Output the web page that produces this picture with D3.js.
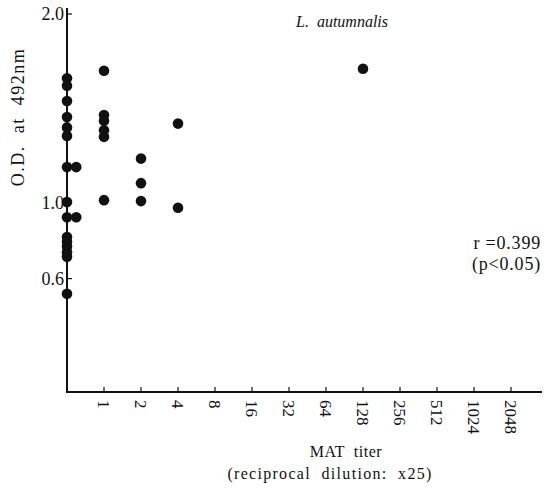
<!DOCTYPE html>
<html>
<head>
<meta charset="utf-8">
<script src="https://cdn.jsdelivr.net/npm/d3@7"></script>
<style>
  body { margin: 0; background: #fff; }
  text { font-family: "Liberation Serif", "DejaVu Serif", serif; fill: #111; white-space: pre; }
</style>
</head>
<body>
<svg id="chart"></svg>
<script>
const WIDTH = 546;
const HEIGHT = 489;

// titer categories (index 0 is the axis itself, < 1)
const titerLabels = ["", "1", "2", "4", "8", "16", "32", "64", "128", "256", "512", "1024", "2048"];
const yTicks = [0.6, 1.0, 2.0];

// points: position on titer axis (index, small offsets where dots overlap) and O.D.
const titerIdx = [0, 0, 0, 0, 0, 0, 0, 0.25, 0, 0, 0.25, 0, 0, 0, 0, 0, 0,
                  1, 1, 1, 1, 1, 1,
                  2, 2, 2,
                  3, 3,
                  8];
const odValues = [1.66, 1.62, 1.54, 1.455, 1.40, 1.355, 1.19, 1.19, 1.005, 0.925, 0.925, 0.82, 0.795, 0.77, 0.74, 0.715, 0.52,
                  1.70, 1.465, 1.435, 1.385, 1.35, 1.015,
                  1.235, 1.105, 1.01,
                  1.42, 0.975,
                  1.71];

window.onload = function(){
    makeChart();
};

function makeChart(){
    const svg = d3.select('#chart')
        .attr('width', WIDTH)
        .attr('height', HEIGHT);

    const x = d3.scaleLinear().domain([0, 12]).range([67, 511]);
    const y = d3.scaleLinear().domain([0, 2]).range([392, 14]);

    const points = titerIdx.map((t, i) => ({t: t, v: odValues[i]}));

    // axes lines
    svg.append('line')
        .attr('x1', x(0)).attr('x2', x(0))
        .attr('y1', 8).attr('y2', y(0))
        .style('stroke', '#111').style('stroke-width', 2);
    svg.append('line')
        .attr('x1', x(0) - 1).attr('x2', 542)
        .attr('y1', y(0)).attr('y2', y(0))
        .style('stroke', '#111').style('stroke-width', 2);

    // y ticks
    const yt = svg.append('g').selectAll('g').data(yTicks).enter().append('g');
    yt.append('line')
        .attr('x1', x(0)).attr('x2', x(0) + 5)
        .attr('y1', d => y(d)).attr('y2', d => y(d))
        .style('stroke', '#111').style('stroke-width', 1.2);
    yt.append('text')
        .attr('x', x(0) - 3)
        .attr('y', d => y(d) + 6)
        .attr('text-anchor', 'end')
        .style('font-size', '18px')
        .text(d => d.toFixed(1));

    // x ticks
    const xt = svg.append('g').selectAll('g')
        .data(titerLabels.map((l, i) => ({l: l, i: i})).filter(d => d.i > 0))
        .enter().append('g');
    xt.append('line')
        .attr('x1', d => x(d.i)).attr('x2', d => x(d.i))
        .attr('y1', y(0)).attr('y2', y(0) - 5)
        .style('stroke', '#111').style('stroke-width', 1.2);
    xt.append('text')
        .attr('transform', d => 'translate(' + (x(d.i) - 6) + ',' + (y(0) + 8) + ') rotate(90)')
        .style('font-size', '17px')
        .text(d => d.l);

    // dots
    svg.append('g').selectAll('circle')
        .data(points)
        .enter()
        .append('circle')
        .attr('cx', d => x(d.t))
        .attr('cy', d => y(d.v))
        .attr('r', 5.3)
        .style('fill', '#111');

    // labels
    svg.append('text')
        .attr('transform', 'translate(24,117) rotate(-90)')
        .attr('text-anchor', 'middle')
        .style('font-size', '18px')
        .style('letter-spacing', '1.5px')
        .text('O.D.  at  492nm');

    svg.append('text')
        .attr('x', 342).attr('y', 27)
        .attr('text-anchor', 'middle')
        .style('font-size', '16px')
        .style('font-style', 'italic')
        .text('L.  autumnalis');

    svg.append('text')
        .attr('x', 541).attr('y', 249)
        .attr('text-anchor', 'end')
        .style('font-size', '18px')
        .style('letter-spacing', '0.8px')
        .text('r =0.399');
    svg.append('text')
        .attr('x', 541).attr('y', 270)
        .attr('text-anchor', 'end')
        .style('font-size', '18px')
        .style('letter-spacing', '0.8px')
        .text('(p<0.05)');

    svg.append('text')
        .attr('x', 346).attr('y', 457)
        .attr('text-anchor', 'middle')
        .style('font-size', '16px')
        .style('letter-spacing', '0.5px')
        .text('MAT  titer');
    svg.append('text')
        .attr('x', 330).attr('y', 479)
        .attr('text-anchor', 'middle')
        .style('font-size', '16px')
        .style('letter-spacing', '1.3px')
        .text('(reciprocal  dilution:  x25)');
}
</script>
</body>
</html>
